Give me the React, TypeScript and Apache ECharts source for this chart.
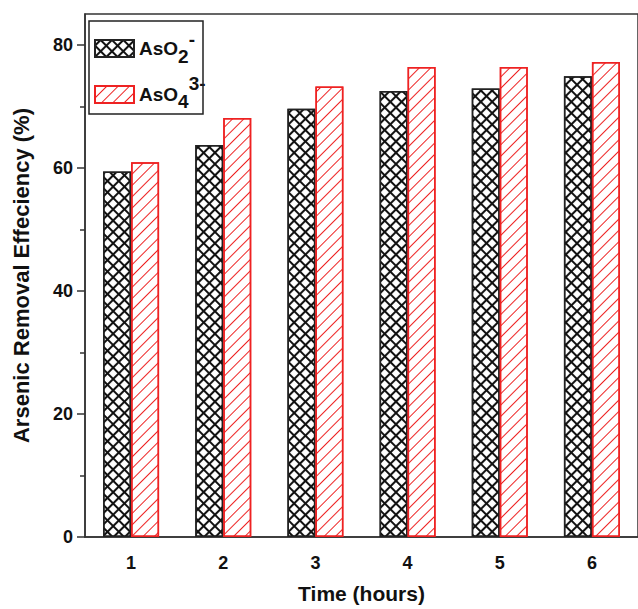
import React, { useEffect, useRef } from "react";
import * as echarts from "echarts";

const hours = ["1", "2", "3", "4", "5", "6"];
const aso2Values = [59.4, 63.7, 69.6, 72.5, 72.9, 74.9];
const aso4Values = [60.9, 68.1, 73.2, 76.4, 76.4, 77.2];
const yMajorTicks = [0, 20, 40, 60, 80];
const yMinorTicks = [10, 30, 50, 70];
const seriesNames = ["AsO2-", "AsO43-"];

const FONT = "'Liberation Sans', Arial, Helvetica, sans-serif";
const AXIS = "#333";

export default function App() {
  const ref = useRef<HTMLDivElement>(null);
  useEffect(() => {
    document.body.style.margin = "0";
    if (!ref.current) return;
    const chart = echarts.init(ref.current, undefined, { renderer: "svg" });
    const labelStyle = { fontSize: 18, fontWeight: "bold", color: "#111", fontFamily: FONT };
    const nameStyle = { fontSize: 21, fontWeight: "bold", color: "#111", fontFamily: FONT };
    const tok = { fontSize: 19, fontWeight: "bold", color: "#111", fontFamily: FONT };
    chart.setOption({
      animation: false,
      aria: { enabled: true, decal: { show: true } },
      grid: { left: 85, top: 14, width: 555, height: 529, show: true, borderColor: AXIS, borderWidth: 1.5 },
      legend: {
        orient: "vertical",
        left: 94,
        top: 30,
        padding: 0,
        itemWidth: 39,
        itemHeight: 17,
        itemGap: 8,
        icon: "rect",
        data: seriesNames,
        formatter: (name: string) =>
          name === seriesNames[0] ? "{a|AsO}{b|2}{c|-}" : "{a|AsO}{d|4}{e|3-}",
        textStyle: {
          rich: {
            a: { ...tok },
            b: { ...tok, padding: [16, 0, 0, 0] },
            c: { ...tok, padding: [0, 0, 18, 0] },
            d: { ...tok, padding: [14, 0, 0, 0] },
            e: { ...tok, padding: [0, 0, 22, 0] },
          },
        },
      },
      graphic: [
        {
          type: "rect",
          shape: { x: 89, y: 21, width: 114, height: 93 },
          style: { fill: "none", stroke: "#222", lineWidth: 1.5 },
          z: 100,
        },
      ],
      xAxis: [
        {
          type: "category",
          data: hours,
          position: "bottom",
          axisLine: { lineStyle: { color: AXIS, width: 1.5 } },
          axisTick: { length: 5, lineStyle: { color: AXIS, width: 1.5 } },
          axisLabel: { ...labelStyle, margin: 17 },
          splitLine: { show: false },
          name: "Time (hours)",
          nameLocation: "middle",
          nameGap: 46,
          nameTextStyle: nameStyle,
        },
        {
          type: "category",
          data: hours,
          position: "bottom",
          axisLine: { show: false },
          axisTick: { alignWithLabel: true, length: 9, lineStyle: { color: AXIS, width: 1.5 } },
          axisLabel: { show: false },
          splitLine: { show: false },
        },
      ],
      yAxis: [
        {
          type: "value",
          min: 0,
          max: 85,
          interval: 20,
          position: "left",
          axisLine: { show: true, lineStyle: { color: AXIS, width: 1.5 } },
          axisTick: { show: true, length: 8, customValues: yMajorTicks, lineStyle: { color: AXIS, width: 1.5 } },
          axisLabel: { ...labelStyle, margin: 12, customValues: yMajorTicks },
          splitLine: { show: false },
          name: "Arsenic Removal Effeciency (%)",
          nameLocation: "middle",
          nameGap: 53,
          nameRotate: 90,
          nameTextStyle: { ...nameStyle, fontSize: 22 },
        },
        {
          type: "value",
          min: 0,
          max: 85,
          position: "left",
          axisLine: { show: false },
          axisTick: { show: true, length: 5, customValues: yMinorTicks, lineStyle: { color: AXIS, width: 1.5 } },
          axisLabel: { show: false },
          splitLine: { show: false },
        },
      ],
      series: [
        {
          name: seriesNames[0],
          type: "bar",
          xAxisIndex: 0,
          yAxisIndex: 0,
          data: aso2Values,
          barWidth: 28,
          barGap: "0%",
          itemStyle: {
            color: "#fff",
            borderColor: "#222",
            borderWidth: 1.5,
            decal: {
              symbol: "path://M0,3.7 H10 V6.3 H0 Z M3.7,0 H6.3 V10 H3.7 Z",
              symbolSize: 1,
              symbolKeepAspect: false,
              color: "#111",
              backgroundColor: "#fff",
              dashArrayX: [8, 0],
              dashArrayY: [8, 0],
              rotation: Math.PI / 4,
            },
          },
        },
        {
          name: seriesNames[1],
          type: "bar",
          xAxisIndex: 0,
          yAxisIndex: 0,
          data: aso4Values,
          barWidth: 28,
          barGap: "0%",
          itemStyle: {
            color: "#fff",
            borderColor: "#ee2222",
            borderWidth: 1.5,
            decal: {
              symbol: "rect",
              symbolSize: 1,
              color: "#ee2222",
              backgroundColor: "#fff",
              dashArrayX: [1, 0],
              dashArrayY: [1, 7],
              rotation: -Math.PI / 4,
            },
          },
        },
      ],
    });
    return () => chart.dispose();
  }, []);
  return (
    <div
      ref={ref}
      style={{ position: "absolute", left: 0, top: 0, width: 638, height: 609, background: "#fff" }}
    />
  );
}
